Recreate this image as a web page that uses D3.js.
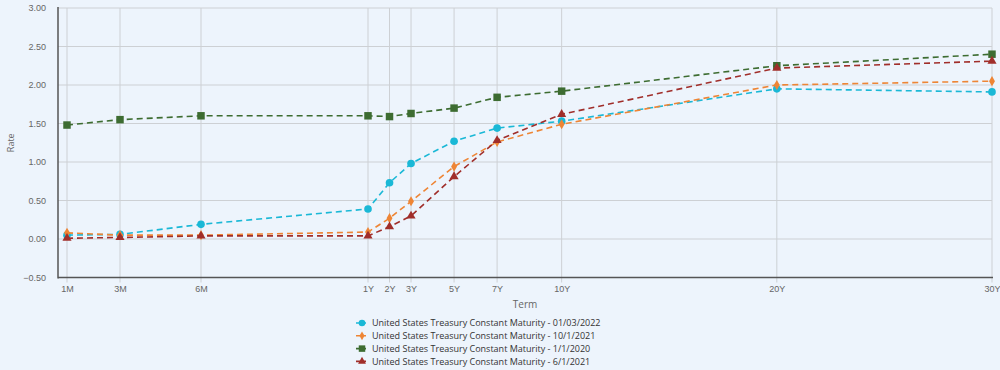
<!DOCTYPE html>
<html>
<head>
<meta charset="utf-8">
<script src="https://cdn.jsdelivr.net/npm/d3@7"></script>
<style>
  body { margin: 0; background: #edf4fc; }
  svg { display: block; font-family: 'Open Sans', sans-serif; }
</style>
</head>
<body>
<svg id="chart" width="1000" height="370"></svg>
<script>
'use strict';

//Terms in months, with their tick labels.
const terms = [1, 3, 6, 12, 24, 36, 60, 84, 120, 240, 360];
const termLabels = ['1M', '3M', '6M', '1Y', '2Y', '3Y', '5Y', '7Y', '10Y', '20Y', '30Y'];
const yTicks = [-0.5, 0, 0.5, 1, 1.5, 2, 2.5, 3];

const seriesNames = [
	'United States Treasury Constant Maturity - 01/03/2022',
	'United States Treasury Constant Maturity - 10/1/2021',
	'United States Treasury Constant Maturity - 1/1/2020',
	'United States Treasury Constant Maturity - 6/1/2021'
];
const rates0103_2022 = [0.05, 0.06, 0.19, 0.39, 0.73, 0.98, 1.27, 1.44, 1.53, 1.95, 1.91];
const rates1001_2021 = [0.08, 0.05, 0.05, 0.09, 0.27, 0.49, 0.94, 1.26, 1.49, 2.00, 2.05];
const rates0101_2020 = [1.48, 1.55, 1.60, 1.60, 1.59, 1.63, 1.70, 1.84, 1.92, 2.25, 2.40];
const rates0601_2021 = [0.01, 0.02, 0.04, 0.04, 0.16, 0.30, 0.81, 1.28, 1.62, 2.22, 2.31];

const colors = ['#1ab8d6', '#ee8535', '#3d6c31', '#a02e2a'];
const symbols = [d3.symbolCircle, d3.symbolDiamond, d3.symbolSquare, d3.symbolTriangle];
const symbolSizes = [46, 30, 56, 36];

const series = [rates0103_2022, rates1001_2021, rates0101_2020, rates0601_2021].map((vals, i) => {
	return {name: seriesNames[i], color: colors[i], symbol: symbols[i], size: symbolSizes[i],
		values: vals.map((v, j) => ({term: terms[j], rate: v}))};
});

const svg = d3.select('#chart');
const margin = {top: 8, right: 8, bottom: 93, left: 58};
const width = 1000, height = 370;

//Piecewise scale: months spread out before 1Y, then linear in years.
const xScale = d3.scaleLinear()
	.domain([1, 3, 6, 12, 360])
	.range([67, 120, 201, 368, 992]);
const yScale = d3.scaleLinear()
	.domain([-0.5, 3])
	.range([height - margin.bottom + 0.5, margin.top]);

const g = svg.append('g');

//Grid lines.
g.append('g')
	.selectAll('line')
	.data(yTicks)
	.enter()
	.append('line')
	.attr('x1', margin.left)
	.attr('x2', xScale(360))
	.attr('y1', d => yScale(d))
	.attr('y2', d => yScale(d))
	.style('stroke', '#cdd0d4')
	.style('stroke-width', 1);
g.append('g')
	.selectAll('line')
	.data(terms)
	.enter()
	.append('line')
	.attr('x1', d => xScale(d))
	.attr('x2', d => xScale(d))
	.attr('y1', yScale(3))
	.attr('y2', yScale(-0.5) + 5)
	.style('stroke', '#cdd0d4')
	.style('stroke-width', 1);

//Axes.
const xAxis = d3.axisBottom(xScale)
	.tickValues(terms)
	.tickFormat((d, i) => termLabels[i])
	.tickSize(0)
	.tickPadding(8);
const xg = g.append('g')
	.attr('transform', `translate(0, ${yScale(-0.5)})`)
	.call(xAxis);
xg.select('.domain').remove();
xg.selectAll('text').style('fill', '#666').style('font-size', '9px');

const yAxis = d3.axisLeft(yScale)
	.tickValues(yTicks)
	.tickFormat(d3.format('.2f'))
	.tickSize(0)
	.tickPadding(12);
const yg = g.append('g')
	.attr('transform', `translate(${margin.left}, 0)`)
	.call(yAxis);
yg.select('.domain').remove();
yg.selectAll('text').style('fill', '#666').style('font-size', '9px');

//Axis lines.
g.append('line')
	.attr('x1', margin.left).attr('x2', margin.left)
	.attr('y1', yScale(3) - 1).attr('y2', yScale(-0.5) + 1)
	.style('stroke', '#555').style('stroke-width', 1.5);
g.append('line')
	.attr('x1', margin.left).attr('x2', xScale(360) + 1)
	.attr('y1', yScale(-0.5)).attr('y2', yScale(-0.5))
	.style('stroke', '#555').style('stroke-width', 1.5);

//Axis titles.
g.append('text')
	.attr('transform', `translate(14, ${yScale(1.25)}) rotate(-90)`)
	.attr('text-anchor', 'middle')
	.style('fill', '#666').style('font-size', '9px')
	.text('Rate');
g.append('text')
	.attr('x', 525).attr('y', 308)
	.attr('text-anchor', 'middle')
	.style('fill', '#666').style('font-size', '10px')
	.text('Term');

//Lines and markers.
const line = d3.line()
	.x(d => xScale(d.term))
	.y(d => yScale(d.rate));

series.forEach((s) => {
	g.append('path')
		.datum(s.values)
		.attr('d', line)
		.style('fill', 'none')
		.style('stroke', s.color)
		.style('stroke-width', 1.6)
		.style('stroke-dasharray', '6,4');
	g.append('g')
		.selectAll('path')
		.data(s.values)
		.enter()
		.append('path')
		.attr('transform', d => `translate(${xScale(d.term)}, ${yScale(d.rate)})`)
		.attr('d', d3.symbol().type(s.symbol).size(s.size))
		.style('fill', s.color);
});

//Legend.
const legend = g.append('g').attr('transform', 'translate(356, 323)');
const item = legend.selectAll('g')
	.data(series)
	.enter()
	.append('g')
	.attr('transform', (d, i) => `translate(0, ${i * 12.8})`);
item.append('line')
	.attr('x1', 0).attr('x2', 12)
	.style('stroke', d => d.color)
	.style('stroke-width', 1.6)
	.style('stroke-dasharray', '4,2');
item.append('path')
	.attr('transform', 'translate(6, 0)')
	.attr('d', d => d3.symbol().type(d.symbol).size(d.size * 0.75)())
	.style('fill', d => d.color);
item.append('text')
	.attr('x', 16)
	.attr('dy', '0.35em')
	.style('fill', '#333')
	.style('font-size', '9px')
	.text(d => d.name);
</script>
</body>
</html>
